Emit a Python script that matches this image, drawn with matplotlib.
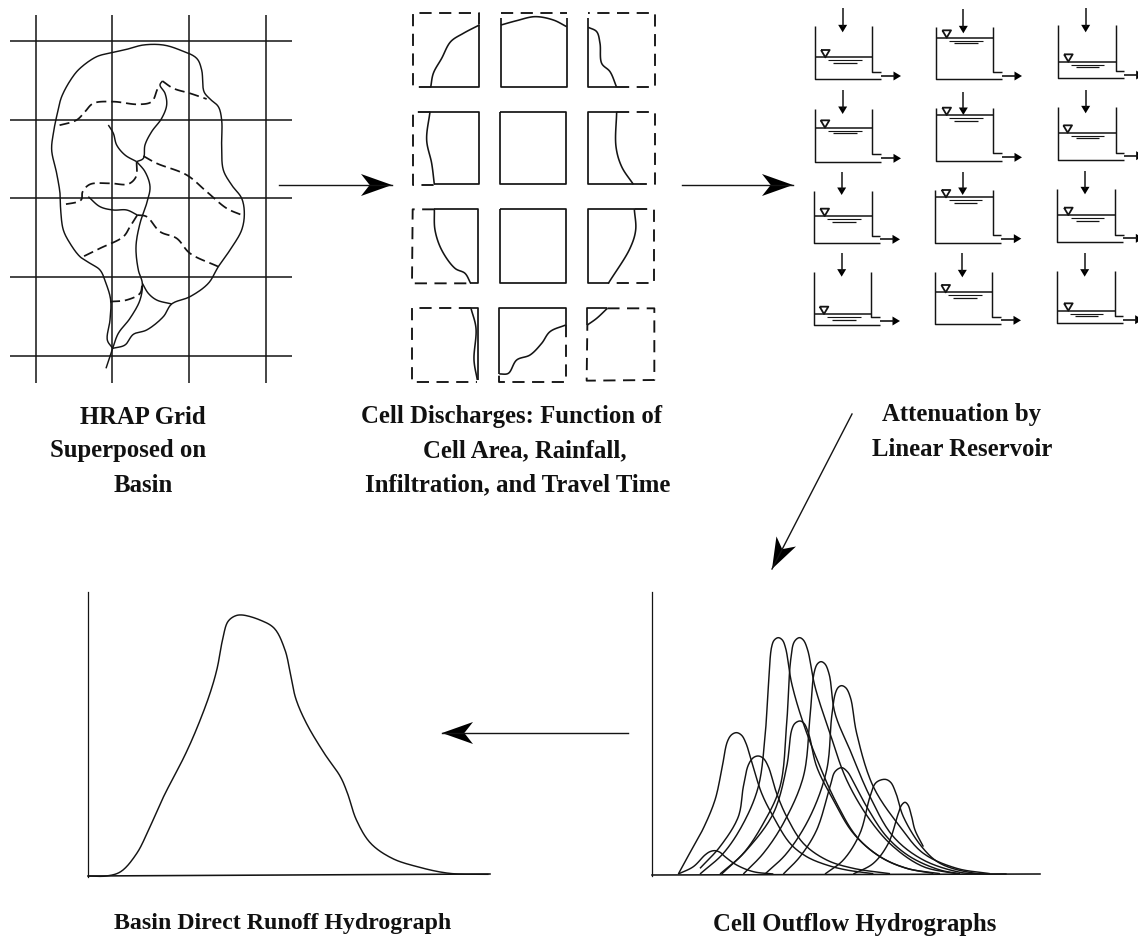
import numpy as np
import matplotlib
matplotlib.use("Agg")
import matplotlib.pyplot as plt

INK = "#141414"
FONT = "Liberation Serif"

# ---- HRAP grid
grid_h_y = [122, 360, 595, 830, 1068]
grid_h_x = [30, 875]
grid_v_x = [107, 337, 567, 798]
grid_v_y = [45, 1150]

basin_outline = [(338,1045),(322,1020),(330,960),(332,900),(318,850),(300,810),(270,790),(240,770),(210,730),
    (190,690),(182,630),(180,580),(170,520),(155,450),(160,400),(172,340),(185,290),(215,235),(240,205),
    (290,170),(335,158),(380,148),(430,135),(490,135),(540,150),(590,175),(605,210),(612,275),(630,297),
    (655,320),(665,360),(665,440),(670,510),(695,555),(725,595),(733,640),(725,690),(690,750),(655,800),
    (625,850),(570,890),(515,912),(490,950),(440,990),(400,1003),(375,1035),(338,1045)]
channels_solid = [
    [(318,1105),(338,1045),(355,1000),(390,955),(420,900),(427,850),(415,810),(408,740),(420,670),(440,610),(450,560),(435,515),(410,485)],
    [(325,375),(340,400),(350,435),(375,465),(410,485)],
    [(410,485),(430,475),(435,435),(455,395),(485,355),(500,315),(495,280),(480,255),(487,243)],
    [(427,850),(445,880),(470,900),(515,912)],
    [(265,590),(300,620),(340,630),(380,630),(412,645)],
]
channels_dashed = [
    [(487,243),(520,265),(570,280),(620,297)],
    [(472,268),(455,305),(415,313),(340,305),(280,310),(255,335),(230,360),(170,378)],
    [(430,468),(470,490),(560,525),(620,575),(680,625),(725,645)],
    [(410,485),(408,530),(385,552),(330,550),(270,553),(248,575),(243,600),(185,615)],
    [(412,645),(390,680),(370,710),(300,745),(245,772)],
    [(412,645),(440,650),(480,695),(530,715),(570,760),(655,800)],
    [(330,905),(380,900),(420,880),(427,850)],
]

# ---- Cells
cell_solid = [
    [(238,75),(238,262),(92,262)],
    [(303,55),(303,262),(500,262),(500,55)],
    [(565,55),(565,262),(650,262)],
    [(90,335),(238,335),(238,553),(103,553)],
    [(301,335),(499,335),(499,553),(301,553),(301,335)],
    [(650,335),(565,335),(565,553),(720,553)],
    [(103,628),(235,628),(235,850),(210,850)],
    [(299,628),(497,628),(497,850),(299,850),(299,628)],
    [(705,628),(563,628),(563,850),(625,850)],
    [(213,925),(233,925),(233,1140)],
    [(298,1122),(298,925),(497,925),(497,975)],
    [(622,925),(562,925),(562,975)],
]
cell_dashed = [
    [(92,260),(40,260),(40,40),(238,40),(238,75)],
    [(303,40),(500,40)],
    [(650,262),(765,262),(765,40),(565,40)],
    [(90,335),(38,335),(38,555),(103,555)],
    [],
    [(650,335),(765,335),(765,553),(720,553)],
    [(103,628),(38,628),(36,850),(210,850)],
    [],
    [(705,628),(763,628),(763,850),(625,850)],
    [(213,925),(36,925),(36,1145),(232,1145)],
    [(497,975),(497,1145),(298,1145),(298,1122)],
    [(622,925),(763,925),(763,1140),(560,1142),(562,975)],
]
cell_curves = [
    [(92,262),(100,220),(125,175),(152,125),(190,100),(238,75)],
    [(303,75),(350,62),(405,50),(460,60),(500,80)],
    [(565,82),(590,95),(600,130),(605,190),(630,215),(650,262)],
    [(90,335),(80,420),(95,490),(103,553)],
    [],
    [(650,335),(648,440),(665,500),(700,553)],
    [(103,628),(105,690),(125,750),(165,805),(195,820),(212,850)],
    [],
    [(703,628),(707,690),(690,745),(625,850)],
    [(213,925),(228,985),(222,1080),(232,1140)],
    [(298,1122),(325,1120),(350,1080),(390,1065),(425,1030),(450,995),(497,975)],
    [(562,975),(590,955),(622,925)],
]

# ---- Reservoirs
res_left   = [45,408,773, 45,408,773, 42,406,772, 42,405,770]
res_right  = [217,580,947, 217,580,947, 215,578,945, 214,577,944]
res_top    = [78,80,75, 328,325,322, 572,570,567, 815,815,812]
res_bottom = [237,237,235, 485,483,480, 730,728,725, 975,972,970]
res_water  = [172,113,185, 383,345,398, 648,592,645, 942,877,932]
res_tri    = [76,440,805, 75,440,803, 74,438,805, 72,437,805]
res_in_x   = [128,490,857, 128,490,857, 125,488,855, 125,487,854]
res_in_top = [25,27,25, 270,275,270, 515,515,513, 758,760,758]
res_in_tip = [97,100,97, 342,345,340, 585,585,583, 830,832,830]
res_spout  = [215,215,212, 463,460,458, 707,705,705, 952,950,948]
res_out    = [228,228,225, 475,472,467, 718,716,715, 963,961,959]

# ---- Cell outflow hydrographs
outflow_curves = [
    [(115,852),(135,815),(160,770),(190,715),(225,630),(245,540),(262,455),(275,434),(290,428),(305,436),(318,460),(335,515),(365,610),(400,680),(450,760),(500,800),(560,825),(620,840),(700,851)],
    [(180,835),(240,770),(295,680),(310,590),(325,525),(340,503),(355,498),(370,505),(385,530),(410,610),(440,680),(490,760),(560,810),(640,835),(750,851)],
    [(115,852),(160,830),(195,795),(210,785),(225,782),(240,787),(255,800),(290,825),(340,845),(400,852)],
    [(180,852),(250,790),(310,700),(355,590),(375,440),(385,290),(395,170),(403,150),(415,143),(427,150),(437,175),(455,280),(490,400),(540,530),(590,640),(650,740),(720,800),(800,835),(900,851)],
    [(240,852),(310,790),(370,700),(420,590),(440,400),(452,210),(463,155),(478,143),(490,150),(503,180),(525,290),(570,430),(620,570),(690,690),(760,770),(850,830),(950,851)],
    [(310,852),(370,790),(430,700),(490,560),(510,380),(522,250),(532,222),(543,215),(555,222),(568,255),(585,370),(630,480),(690,620),(760,740),(850,810),(960,847),(1020,852)],
    [(375,852),(440,790),(510,680),(560,540),(575,380),(586,310),(595,292),(605,287),(618,294),(632,325),(650,430),(700,590),(780,710),(850,790),(950,835),(1050,851)],
    [(245,852),(320,780),(400,670),(440,530),(455,420),(465,400),(480,393),(492,400),(507,435),(530,530),(580,630),(640,730),(720,800),(800,835),(880,850)],
    [(430,852),(480,800),(530,720),(570,590),(585,545),(605,533),(622,545),(640,575),(680,650),(740,740),(810,800),(900,840),(960,851)],
    [(555,852),(610,810),(660,730),(690,620),(708,578),(735,568),(752,577),(768,610),(790,680),(845,770),(900,820),(1000,849),(1100,852)],
    [(640,852),(700,820),(745,760),(775,670),(785,645),(795,637),(804,645),(815,680),(825,720),(850,770)],
]

# ---- Basin direct runoff hydrograph
runoff_curve = [(78,888),(130,888),(170,875),(215,820),(250,745),(290,650),(350,525),(385,440),(420,340),(440,265),
    (455,180),(470,125),(490,108),(510,105),(560,120),(600,145),(630,210),(645,280),(660,355),(690,430),
    (740,520),(785,590),(805,640),(830,720),(870,790),(930,835),(1000,860),(1090,880),(1200,883)]

# ---- Flow arrows
flow_tail = [(279,185),(682,185),(852,414),(628,733)]
flow_tip  = [(392,185),(793,185),(772,569),(442,733)]

# ---- Labels
label_x = [143,128,143, 512,525,518, 962,962, 283,855]
label_y = [417,451,485, 417,451,485, 415,450, 924,924]
label_size = [17.8,17.8,17.8, 17.8,17.8,17.8, 17.8,17.8, 17.2,17.8]
labels = ["HRAP Grid","Superposed on","Basin",
          "Cell Discharges: Function of","Cell Area, Rainfall,","Infiltration, and Travel Time",
          "Attenuation by","Linear Reservoir",
          "Basin Direct Runoff Hydrograph","Cell Outflow Hydrographs"]


def smooth(points, n=14):
    """Centripetal Catmull-Rom curve through the given points."""
    p = np.asarray(points, float)
    q = np.vstack([2 * p[0] - p[1], p, 2 * p[-1] - p[-2]])
    out = []
    for i in range(1, len(q) - 2):
        p0, p1, p2, p3 = q[i - 1], q[i], q[i + 1], q[i + 2]
        t0 = 0.0
        t1 = t0 + max(np.hypot(*(p1 - p0)), 1e-6) ** 0.5
        t2 = t1 + max(np.hypot(*(p2 - p1)), 1e-6) ** 0.5
        t3 = t2 + max(np.hypot(*(p3 - p2)), 1e-6) ** 0.5
        t = np.linspace(t1, t2, n, endpoint=False)[:, None]
        a1 = (t1 - t) / (t1 - t0) * p0 + (t - t0) / (t1 - t0) * p1
        a2 = (t2 - t) / (t2 - t1) * p1 + (t - t1) / (t2 - t1) * p2
        a3 = (t3 - t) / (t3 - t2) * p2 + (t - t2) / (t3 - t2) * p3
        b1 = (t2 - t) / (t2 - t0) * a1 + (t - t0) / (t2 - t0) * a2
        b2 = (t3 - t) / (t3 - t1) * a2 + (t - t1) / (t3 - t1) * a3
        out.append((t2 - t) / (t2 - t1) * b1 + (t - t1) / (t2 - t1) * b2)
    out.append(p[-1:])
    return np.vstack(out)


def shift(points, ox=0.0, oy=0.0, sx=3.0, sy=3.0):
    p = np.asarray(points, float)
    return np.column_stack([ox + p[:, 0] / sx, oy + p[:, 1] / sy])


fig = plt.figure(figsize=(11.38, 9.38), dpi=100, facecolor="white")
ax = fig.add_axes([0, 0, 1, 1])
ax.set_xlim(0, 1138)
ax.set_ylim(938, 0)
ax.axis("off")

LW = 1.05


def line(p, lw=LW, **kw):
    ax.plot(p[:, 0], p[:, 1], color=INK, lw=lw, solid_capstyle="butt", **kw)


def dashed(p, lw=1.25, dash=(6.5, 4)):
    ax.plot(p[:, 0], p[:, 1], color=INK, lw=lw, linestyle=(0, dash), dash_capstyle="butt")


def head(tip, tail, length, half, notch=0.0):
    tip, tail = np.asarray(tip, float), np.asarray(tail, float)
    u = (tail - tip) / np.hypot(*(tail - tip))
    n = np.array([-u[1], u[0]])
    base = tip + u * length
    poly = np.array([tip, base + n * half, tip + u * length * (1 - notch), base - n * half])
    ax.fill(poly[:, 0], poly[:, 1], color="black", lw=0)


# Grid + basin
for y in grid_h_y:
    line(shift([(grid_h_x[0], y), (grid_h_x[1], y)]), lw=1.1)
for x in grid_v_x:
    line(shift([(x, grid_v_y[0]), (x, grid_v_y[1])]), lw=1.1)
line(shift(smooth(basin_outline)))
for c in channels_solid:
    line(shift(smooth(c)))
for c in channels_dashed:
    dashed(shift(smooth(c)), lw=1.25, dash=(5.8, 2.8))

# Cells
for s, d, c in zip(cell_solid, cell_dashed, cell_curves):
    line(shift(s, ox=400), lw=1.25)
    if d:
        dashed(shift(d, ox=400), lw=1.35)
    if c:
        line(shift(smooth(c), ox=400), lw=1.15)

# Reservoirs
for L, R, T, B, W, TR, IX, IT, IP, SP, OUT in zip(res_left, res_right, res_top, res_bottom, res_water, res_tri,
                                                  res_in_x, res_in_top, res_in_tip, res_spout, res_out):
    line(shift([(L, T), (L, B), (L + 198, B)], ox=800), lw=1.05)
    line(shift([(R, T), (R, SP), (R + 26, SP)], ox=800), lw=1.05)
    line(shift([(L, W), (R, W)], ox=800), lw=1.1)
    line(shift([(L + 40, W + 9), (L + 140, W + 9)], ox=800), lw=0.8)
    line(shift([(L + 55, W + 17), (L + 125, W + 17)], ox=800), lw=0.9)
    line(shift([(TR - 13, W - 22), (TR + 13, W - 22), (TR, W), (TR - 13, W - 22)], ox=800), lw=1.3)
    line(shift([(IX, IT), (IX, IP - 15)], ox=800), lw=1.1)
    a, b = shift([(IX, IP), (IX, IP - 22)], ox=800)
    head(a, b, 7.5, 4.5)
    x0 = L + 198
    a, b = shift([(x0 + 60, OUT), (x0 + 38, OUT)], ox=800)
    line(shift([(x0, OUT), (x0 + 42, OUT)], ox=800), lw=1.2)
    head(a, b, 7.5, 4.5)

# Big arrows
for tail, tip in zip(flow_tail, flow_tip):
    tl, tp = np.array(tail, float), np.array(tip, float)
    ax.plot([tl[0], tp[0]], [tl[1], tp[1]], color=INK, lw=1.0)
    head(tp, tl, 31, 11, notch=0.28)

# Outflow hydrographs
ax.plot([652, 652], [592, 876], color=INK, lw=0.9)
ax.plot([652, 1040], [875, 874], color=INK, lw=1.15)
for c in outflow_curves:
    line(shift(smooth(c), ox=640, oy=590), lw=1.05)

# Runoff hydrograph
ax.plot([88, 88], [592, 877], color=INK, lw=0.9)
ax.plot([88, 490], [876, 874], color=INK, lw=1.15)
line(shift(smooth(runoff_curve), ox=60, oy=580, sx=2.8, sy=3.0), lw=1.05)

# Labels
for x, y, t, s in zip(label_x, label_y, labels, label_size):
    ax.text(x, y, t, family=FONT, weight="bold", fontsize=s, color="#111111", ha="center", va="center")

fig.savefig("out.png", dpi=100, facecolor="white")
